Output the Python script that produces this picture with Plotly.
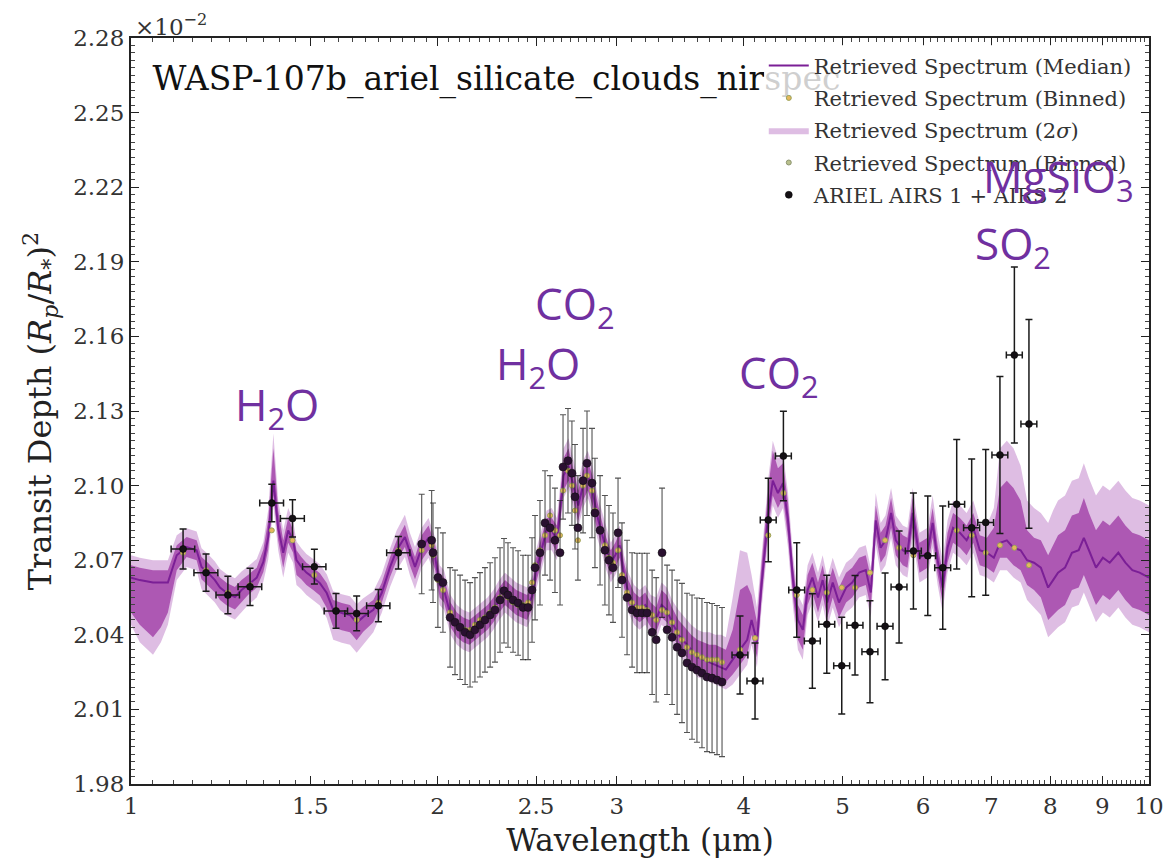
import numpy as np
import plotly.graph_objects as go

# ---------------- retrieved model spectrum: median ----------------
wl_model_a = [1.000, 1.020, 1.051, 1.070, 1.087, 1.109, 1.134, 1.160, 1.173, 1.190,
              1.209, 1.223, 1.242, 1.265, 1.284, 1.303, 1.329, 1.349, 1.364, 1.380,
              1.395, 1.411, 1.427, 1.443, 1.454, 1.470, 1.487, 1.510, 1.533, 1.557,
              1.580, 1.611, 1.641, 1.666, 1.691, 1.730, 1.763, 1.797, 1.824, 1.858,
              1.879, 1.901]
median_a = [2.063, 2.062, 2.061, 2.061, 2.061, 2.072, 2.0753, 2.074, 2.0673, 2.065,
            2.062, 2.059, 2.0568, 2.0552, 2.058, 2.060, 2.063, 2.0693, 2.0793, 2.102,
            2.083, 2.073, 2.082, 2.078, 2.070, 2.0673, 2.065, 2.063, 2.0608, 2.0568,
            2.050, 2.0488, 2.048, 2.0448, 2.0472, 2.050, 2.0568, 2.0673, 2.074, 2.0793,
            2.073, 2.0673]

wl_model_b = [1.93, 1.96, 1.99, 2.01, 2.03, 2.06, 2.09, 2.12, 2.15, 2.18,
              2.21, 2.24, 2.27, 2.30, 2.33, 2.36, 2.39, 2.42, 2.45, 2.48,
              2.50, 2.53, 2.56, 2.59, 2.62, 2.64, 2.66, 2.69, 2.72, 2.75,
              2.78, 2.81, 2.84, 2.87, 2.90, 2.93, 2.96, 2.99, 3.02, 3.05,
              3.08, 3.12, 3.16, 3.20, 3.24, 3.28, 3.32, 3.36, 3.40, 3.45,
              3.50, 3.55, 3.60, 3.65, 3.70, 3.75, 3.80, 3.84]
median_b = [2.075, 2.079, 2.071, 2.060, 2.058, 2.048, 2.044, 2.042, 2.041, 2.043,
            2.045, 2.047, 2.050, 2.054, 2.057, 2.055, 2.053, 2.052, 2.051, 2.056,
            2.066, 2.074, 2.082, 2.082, 2.078, 2.090, 2.104, 2.108, 2.100, 2.092,
            2.100, 2.104, 2.098, 2.088, 2.081, 2.074, 2.069, 2.072, 2.076, 2.064,
            2.057, 2.052, 2.050, 2.052, 2.048, 2.046, 2.052, 2.050, 2.045, 2.040,
            2.037, 2.034, 2.031, 2.030, 2.029, 2.028, 2.027, 2.026]

wl_model_c = [3.90, 3.965, 4.03, 4.07, 4.12, 4.16, 4.23, 4.27, 4.32, 4.37,
              4.42, 4.47, 4.52, 4.57, 4.62, 4.67, 4.73, 4.78, 4.83, 4.89,
              4.96, 5.04, 5.11, 5.19, 5.27, 5.33, 5.39, 5.45, 5.51, 5.58,
              5.64, 5.73, 5.79, 5.86, 5.95, 6.06, 6.13, 6.20, 6.27, 6.34,
              6.42, 6.52, 6.62, 6.72, 6.82, 6.93, 7.04, 7.14, 7.25, 7.36,
              7.48, 7.59, 7.71, 7.83, 7.96, 8.05, 8.14, 8.27, 8.40, 8.53,
              8.63, 8.73, 8.87, 9.01, 9.15, 9.33, 9.48, 9.63, 9.79, 10.0]
median_c = [2.030, 2.034, 2.038, 2.046, 2.037, 2.059, 2.090, 2.102, 2.097, 2.101,
            2.086, 2.062, 2.046, 2.042, 2.058, 2.063, 2.055, 2.062, 2.053, 2.061,
            2.053, 2.059, 2.061, 2.065, 2.066, 2.057, 2.086, 2.075, 2.078, 2.089,
            2.078, 2.074, 2.073, 2.089, 2.071, 2.073, 2.085, 2.070, 2.059, 2.075,
            2.083, 2.081, 2.078, 2.083, 2.074, 2.073, 2.071, 2.077, 2.078, 2.075,
            2.074, 2.070, 2.069, 2.067, 2.059, 2.062, 2.065, 2.067, 2.073, 2.074,
            2.079, 2.074, 2.067, 2.071, 2.069, 2.073, 2.069, 2.066, 2.065, 2.063]

# ---------------- spread of the posterior about the median ----------------
sig1_hi_a = [0.005, 0.005, 0.005, 0.005, 0.005, 0.004, 0.004, 0.004, 0.004, 0.004,
             0.004, 0.004, 0.004, 0.004, 0.004, 0.004, 0.004, 0.005, 0.007, 0.013,
             0.007, 0.005, 0.005, 0.004, 0.004, 0.004, 0.004, 0.004, 0.004, 0.004,
             0.004, 0.004, 0.004, 0.004, 0.004, 0.004, 0.004, 0.004, 0.004, 0.005,
             0.004, 0.004]
sig1_lo_a = [0.014, 0.018, 0.022, 0.018, 0.012, 0.006, 0.004, 0.004, 0.005, 0.005,
             0.005, 0.005, 0.005, 0.005, 0.005, 0.004, 0.004, 0.004, 0.005, 0.006,
             0.005, 0.006, 0.005, 0.005, 0.006, 0.005, 0.005, 0.005, 0.005, 0.006,
             0.007, 0.007, 0.007, 0.007, 0.006, 0.005, 0.004, 0.004, 0.004, 0.004,
             0.005, 0.005]
sig2_hi_a = [0.009, 0.009, 0.009, 0.009, 0.009, 0.008, 0.0075, 0.0075, 0.0075, 0.0075,
             0.0075, 0.0075, 0.0075, 0.0075, 0.0075, 0.0075, 0.0075, 0.008, 0.011, 0.019,
             0.011, 0.009, 0.009, 0.008, 0.0075, 0.0075, 0.0075, 0.0075, 0.0075, 0.0075,
             0.0075, 0.0075, 0.0075, 0.0075, 0.0075, 0.0075, 0.0075, 0.0075, 0.008, 0.009,
             0.008, 0.008]
sig2_lo_a = [0.019, 0.025, 0.029, 0.024, 0.017, 0.010, 0.008, 0.008, 0.009, 0.009,
             0.009, 0.009, 0.009, 0.009, 0.009, 0.008, 0.008, 0.008, 0.009, 0.010,
             0.009, 0.010, 0.009, 0.009, 0.010, 0.009, 0.009, 0.009, 0.009, 0.010,
             0.012, 0.012, 0.012, 0.012, 0.011, 0.009, 0.008, 0.008, 0.008, 0.008,
             0.009, 0.009]

sig1_hi_b = [0.005, 0.005, 0.005, 0.005, 0.005, 0.005, 0.005, 0.005, 0.005, 0.005,
             0.005, 0.005, 0.005, 0.005, 0.005, 0.005, 0.005, 0.005, 0.005, 0.005,
             0.005, 0.005, 0.005, 0.005, 0.006, 0.006, 0.007, 0.007, 0.006, 0.006,
             0.006, 0.006, 0.006, 0.006, 0.005, 0.005, 0.005, 0.005, 0.005, 0.005,
             0.005, 0.005, 0.005, 0.005, 0.005, 0.005, 0.006, 0.006, 0.006, 0.006,
             0.006, 0.006, 0.007, 0.007, 0.007, 0.008, 0.008, 0.008]
sig1_lo_b = [0.005, 0.005, 0.005, 0.005, 0.005, 0.005, 0.005, 0.005, 0.005, 0.005,
             0.005, 0.005, 0.005, 0.005, 0.005, 0.005, 0.005, 0.005, 0.005, 0.005,
             0.005, 0.005, 0.005, 0.005, 0.005, 0.005, 0.006, 0.006, 0.006, 0.006,
             0.006, 0.006, 0.006, 0.006, 0.005, 0.005, 0.005, 0.005, 0.005, 0.005,
             0.005, 0.005, 0.005, 0.005, 0.005, 0.005, 0.005, 0.005, 0.005, 0.005,
             0.005, 0.005, 0.005, 0.005, 0.005, 0.005, 0.005, 0.005]
sig2_hi_b = [0.008, 0.008, 0.008, 0.008, 0.008, 0.008, 0.008, 0.008, 0.008, 0.008,
             0.008, 0.008, 0.008, 0.008, 0.008, 0.008, 0.008, 0.008, 0.008, 0.008,
             0.008, 0.008, 0.008, 0.009, 0.009, 0.010, 0.011, 0.011, 0.010, 0.010,
             0.010, 0.010, 0.010, 0.009, 0.009, 0.009, 0.008, 0.008, 0.008, 0.008,
             0.008, 0.008, 0.008, 0.008, 0.008, 0.009, 0.009, 0.009, 0.009, 0.010,
             0.010, 0.010, 0.011, 0.011, 0.012, 0.012, 0.013, 0.013]
sig2_lo_b = [0.008, 0.008, 0.008, 0.008, 0.008, 0.008, 0.008, 0.008, 0.008, 0.008,
             0.008, 0.008, 0.008, 0.008, 0.008, 0.008, 0.008, 0.008, 0.008, 0.008,
             0.008, 0.008, 0.008, 0.008, 0.008, 0.008, 0.009, 0.009, 0.009, 0.009,
             0.009, 0.009, 0.009, 0.009, 0.008, 0.008, 0.008, 0.008, 0.008, 0.008,
             0.008, 0.008, 0.008, 0.008, 0.008, 0.008, 0.008, 0.008, 0.008, 0.008,
             0.008, 0.008, 0.008, 0.008, 0.008, 0.008, 0.008, 0.008]

sig1_hi_c = [0.012, 0.024, 0.022, 0.010, 0.008, 0.008, 0.010, 0.012, 0.010, 0.008,
             0.007, 0.006, 0.006, 0.006, 0.006, 0.006, 0.006, 0.006, 0.006, 0.006,
             0.006, 0.006, 0.006, 0.006, 0.006, 0.006, 0.006, 0.006, 0.006, 0.006,
             0.006, 0.006, 0.006, 0.006, 0.006, 0.006, 0.006, 0.006, 0.006, 0.006,
             0.006, 0.006, 0.006, 0.006, 0.006, 0.006, 0.012, 0.022, 0.024, 0.024,
             0.020, 0.012, 0.010, 0.011, 0.013, 0.014, 0.015, 0.015, 0.015, 0.015,
             0.016, 0.015, 0.015, 0.015, 0.015, 0.015, 0.015, 0.015, 0.015, 0.015]
sig1_lo_c = [0.006, 0.006, 0.006, 0.006, 0.006, 0.006, 0.006, 0.006, 0.006, 0.006,
             0.007, 0.007, 0.008, 0.008, 0.006, 0.006, 0.006, 0.006, 0.006, 0.006,
             0.006, 0.006, 0.006, 0.006, 0.006, 0.006, 0.006, 0.006, 0.006, 0.006,
             0.006, 0.006, 0.006, 0.006, 0.006, 0.006, 0.006, 0.006, 0.006, 0.006,
             0.006, 0.006, 0.006, 0.006, 0.006, 0.006, 0.006, 0.006, 0.007, 0.007,
             0.008, 0.010, 0.011, 0.012, 0.013, 0.014, 0.015, 0.015, 0.015, 0.015,
             0.015, 0.015, 0.015, 0.015, 0.015, 0.015, 0.015, 0.015, 0.015, 0.015]
sig2_hi_c = [0.025, 0.040, 0.035, 0.018, 0.014, 0.012, 0.014, 0.016, 0.014, 0.012,
             0.011, 0.010, 0.010, 0.010, 0.010, 0.010, 0.010, 0.010, 0.010, 0.010,
             0.010, 0.010, 0.010, 0.010, 0.010, 0.010, 0.011, 0.010, 0.010, 0.010,
             0.010, 0.010, 0.010, 0.010, 0.010, 0.010, 0.011, 0.011, 0.011, 0.011,
             0.011, 0.011, 0.011, 0.011, 0.011, 0.011, 0.020, 0.038, 0.040, 0.040,
             0.034, 0.024, 0.022, 0.022, 0.026, 0.028, 0.029, 0.029, 0.029, 0.029,
             0.030, 0.029, 0.029, 0.029, 0.029, 0.029, 0.029, 0.029, 0.029, 0.029]
sig2_lo_c = [0.010, 0.010, 0.010, 0.010, 0.010, 0.010, 0.010, 0.010, 0.010, 0.010,
             0.011, 0.011, 0.012, 0.012, 0.010, 0.010, 0.010, 0.010, 0.010, 0.010,
             0.010, 0.010, 0.010, 0.010, 0.010, 0.010, 0.010, 0.010, 0.010, 0.010,
             0.010, 0.010, 0.010, 0.010, 0.010, 0.010, 0.010, 0.010, 0.010, 0.010,
             0.010, 0.010, 0.010, 0.010, 0.010, 0.010, 0.010, 0.011, 0.012, 0.012,
             0.013, 0.016, 0.018, 0.019, 0.020, 0.021, 0.022, 0.022, 0.022, 0.022,
             0.022, 0.022, 0.022, 0.022, 0.022, 0.022, 0.022, 0.022, 0.022, 0.022]

# ---------------- observed spectrum ----------------
# low-resolution bins (1.1-1.9 um)
wl_obs_a = [1.125, 1.185, 1.245, 1.309, 1.375, 1.441, 1.514, 1.590, 1.666, 1.750, 1.831]
depth_obs_a = [2.0745, 2.065, 2.056, 2.0593, 2.093, 2.0868, 2.0674, 2.0496, 2.0486, 2.0517, 2.073]
err_obs_a = [0.008, 0.0075, 0.0075, 0.0075, 0.0075, 0.0075, 0.007, 0.007, 0.007, 0.0065, 0.0065]
halfbin_obs_a = [0.030, 0.032, 0.033, 0.035, 0.037, 0.039, 0.040, 0.042, 0.044, 0.046, 0.048]
binned_a = [2.073, 2.066, 2.057, 2.060, 2.082, 2.078, 2.064, 2.050, 2.046, 2.053, 2.074]

# high-resolution bins (1.9-3.8 um)
wl_obs_b = [1.930, 1.974, 1.980, 2.002, 2.025, 2.058, 2.081, 2.105, 2.129, 2.153,
            2.177, 2.202, 2.227, 2.253, 2.278, 2.304, 2.325, 2.346, 2.373, 2.400,
            2.427, 2.455, 2.477, 2.494, 2.522, 2.551, 2.580, 2.609, 2.639, 2.657,
            2.687, 2.711, 2.730, 2.748, 2.780, 2.805, 2.837, 2.856, 2.889, 2.921,
            2.948, 2.975, 3.009, 3.036, 3.071, 3.106, 3.141, 3.177, 3.213, 3.250,
            3.280, 3.324, 3.362, 3.400, 3.439, 3.477, 3.517, 3.557, 3.597, 3.638,
            3.680, 3.722, 3.764, 3.807]
depth_obs_b = [2.0765, 2.078, 2.073, 2.063, 2.061, 2.047, 2.045, 2.043, 2.041, 2.040,
               2.042, 2.044, 2.046, 2.048, 2.050, 2.054, 2.0577, 2.056, 2.054, 2.0528,
               2.051, 2.051, 2.058, 2.067, 2.073, 2.085, 2.083, 2.078, 2.073, 2.1075,
               2.110, 2.105, 2.0955, 2.083, 2.102, 2.109, 2.101, 2.089, 2.082, 2.074,
               2.070, 2.067, 2.081, 2.062, 2.055, 2.050, 2.0488, 2.0488, 2.0488, 2.041,
               2.038, 2.073, 2.042, 2.039, 2.035, 2.0327, 2.0287, 2.027, 2.0258, 2.0246,
               2.023, 2.0226, 2.0218, 2.021]
err_obs_b = [0.020, 0.020, 0.020, 0.020, 0.020, 0.020, 0.021, 0.021, 0.021, 0.021,
             0.021, 0.021, 0.021, 0.021, 0.021, 0.021, 0.021, 0.021, 0.021, 0.021,
             0.021, 0.021, 0.021, 0.021, 0.021, 0.021, 0.021, 0.021, 0.021, 0.021,
             0.021, 0.021, 0.021, 0.021, 0.021, 0.021, 0.022, 0.022, 0.022, 0.022,
             0.022, 0.022, 0.022, 0.023, 0.023, 0.023, 0.024, 0.024, 0.024, 0.025,
             0.025, 0.026, 0.026, 0.027, 0.027, 0.028, 0.028, 0.029, 0.029, 0.030,
             0.030, 0.030, 0.030, 0.030]
binned_b = [2.074, 2.076, 2.072, 2.062, 2.058, 2.049, 2.045, 2.043, 2.042, 2.042,
            2.044, 2.046, 2.047, 2.049, 2.051, 2.055, 2.057, 2.055, 2.053, 2.052,
            2.052, 2.053, 2.061, 2.068, 2.074, 2.080, 2.088, 2.082, 2.080, 2.098,
            2.106, 2.100, 2.090, 2.078, 2.100, 2.104, 2.098, 2.090, 2.082, 2.076,
            2.071, 2.069, 2.074, 2.064, 2.057, 2.053, 2.051, 2.051, 2.050, 2.048,
            2.046, 2.050, 2.049, 2.045, 2.041, 2.038, 2.035, 2.033, 2.032, 2.031,
            2.030, 2.030, 2.030, 2.029]

# mid-infrared bins (3.9-7.7 um)
wl_obs_c = [3.965, 4.102, 4.227, 4.374, 4.508, 4.670, 4.825, 4.991, 5.143, 5.320,
            5.505, 5.682, 5.869, 6.063, 6.272, 6.473, 6.696, 6.912, 7.138, 7.375, 7.622]
depth_obs_c = [2.0319, 2.0214, 2.0862, 2.1119, 2.058, 2.0375, 2.0442, 2.0276, 2.0438, 2.0332,
               2.0434, 2.0592, 2.0737, 2.0718, 2.067, 2.0925, 2.083, 2.0852, 2.1123, 2.1525, 2.1248]
err_obs_c = [0.0157, 0.0153, 0.0168, 0.018, 0.019, 0.019, 0.0197, 0.0195, 0.020, 0.0205,
             0.0215, 0.0225, 0.0233, 0.024, 0.0248, 0.026, 0.0277, 0.0293, 0.0316, 0.0354, 0.042]
halfbin_obs_c = [0.071, 0.074, 0.076, 0.079, 0.081, 0.084, 0.087, 0.090, 0.093, 0.096,
                 0.099, 0.102, 0.106, 0.109, 0.113, 0.117, 0.121, 0.124, 0.128, 0.133, 0.137]
binned_c = [2.034, 2.0387, 2.080, 2.097, 2.056, 2.058, 2.057, 2.059, 2.059, 2.065,
            2.078, 2.075, 2.072, 2.072, 2.067, 2.082, 2.080, 2.073, 2.076, 2.075, 2.068]

# ---------------- labels ----------------
molecule_labels = ["H<sub>2</sub>O", "H<sub>2</sub>O", "CO<sub>2</sub>", "CO<sub>2</sub>",
                   "SO<sub>2</sub>", "MgSiO<sub>3</sub>"]
molecule_wl = [1.39, 2.51, 2.73, 4.33, 7.36, 8.15]
molecule_depth = [2.132, 2.1485, 2.1726, 2.1445, 2.1967, 2.2235]
x_tick_vals = [1, 1.5, 2, 2.5, 3, 4, 5, 6, 7, 8, 9, 10]
y_tick_vals = [1.98, 2.01, 2.04, 2.07, 2.10, 2.13, 2.16, 2.19, 2.22, 2.25, 2.28]
title_text = "WASP-107b_ariel_silicate_clouds_nirspec"

# ---------------- assemble ----------------
wl_model = np.array(wl_model_a + wl_model_b + wl_model_c)
median = np.array(median_a + median_b + median_c)
s1h = np.array(sig1_hi_a + sig1_hi_b + sig1_hi_c)
s1l = np.array(sig1_lo_a + sig1_lo_b + sig1_lo_c)
s2h = np.array(sig2_hi_a + sig2_hi_b + sig2_hi_c)
s2l = np.array(sig2_lo_a + sig2_lo_b + sig2_lo_c)

SERIF = "DejaVu Serif"
C_LINE = "#7b1f96"
C_1SIG = "rgba(165, 70, 170, 0.85)"
C_2SIG = "rgba(218, 182, 224, 0.9)"

fig = go.Figure()


def band(lo, hi, color, name, group, show, rank):
    return go.Scatter(
        x=np.concatenate([wl_model, wl_model[::-1]]),
        y=np.concatenate([hi, lo[::-1]]),
        fill="toself", fillcolor=color, mode="lines", line=dict(width=0),
        hoverinfo="skip", name=name, showlegend=show, legendgroup=group,
        legendrank=rank,
    )


fig.add_trace(band(median - s2l, median + s2h, C_2SIG,
                   "Retrieved Spectrum (2<i>σ</i>)", "g3", True, 3))
fig.add_trace(band(median - s1l, median + s1h, C_1SIG,
                   "Retrieved Spectrum (1<i>σ</i>)", "g6", False, 6))
fig.add_trace(go.Scatter(x=wl_model, y=median, mode="lines",
                         line=dict(color=C_LINE, width=2),
                         name="Retrieved Spectrum (Median)", legendgroup="g1",
                         legendrank=1))

# model binned to the observation bins
wl_obs_all = wl_obs_a + wl_obs_b + wl_obs_c
binned_all = binned_a + binned_b + binned_c
fig.add_trace(go.Scatter(x=wl_obs_all, y=binned_all, mode="markers",
                         marker=dict(size=5, color="#e6b85c",
                                     line=dict(color="#9aa35a", width=1)),
                         name="Retrieved Spectrum (Binned)", legendgroup="g2",
                         legendrank=2))
fig.add_trace(go.Scatter(x=[None], y=[None], mode="markers",
                         marker=dict(size=5, color="#b9c08c",
                                     line=dict(color="#8c9470", width=1)),
                         name="Retrieved Spectrum (Binned)", legendgroup="g4",
                         legendrank=4))

# observations: dense high-resolution bins
fig.add_trace(go.Scatter(
    x=wl_obs_b, y=depth_obs_b, mode="markers",
    marker=dict(size=8, color="#2a1030", line=dict(color="#111", width=0.6)),
    error_y=dict(type="data", array=err_obs_b, color="rgba(25,25,25,0.75)",
                 thickness=1.1, width=3),
    name="ARIEL AIRS 1 + AIRS 2", legendgroup="g5", showlegend=False,
    legendrank=5))

# observations: coarse bins with spectral half-widths
fig.add_trace(go.Scatter(
    x=wl_obs_a + wl_obs_c, y=depth_obs_a + depth_obs_c, mode="markers",
    marker=dict(size=7, color="#141014", line=dict(color="#000", width=0.5)),
    error_y=dict(type="data", array=err_obs_a + err_obs_c, color="#1a1a1a",
                 thickness=1.5, width=3.5),
    error_x=dict(type="data", array=halfbin_obs_a + halfbin_obs_c, color="#1a1a1a",
                 thickness=1.5, width=3.5),
    name="ARIEL AIRS 1 + AIRS 2", legendgroup="g5", legendrank=5))

# run name written inside the axes
fig.add_trace(go.Scatter(x=[1.05], y=[2.2625], mode="text", text=[title_text],
                         textposition="middle right",
                         textfont=dict(family=SERIF, size=33, color="#111"),
                         showlegend=False, hoverinfo="skip", cliponaxis=False))

# molecule annotations
for lab, w, d in zip(molecule_labels, molecule_wl, molecule_depth):
    fig.add_annotation(x=np.log10(w), y=d, xref="x", yref="y", text=lab,
                       showarrow=False,
                       font=dict(family="Open Sans", size=44, color="#7030a0"))

fig.add_annotation(x=0, y=1, xref="paper", yref="paper", xanchor="left",
                   yanchor="bottom", text="×10<sup>−2</sup>", showarrow=False,
                   xshift=2, yshift=-4,
                   font=dict(family=SERIF, size=23, color="#333"))

minor_x = [v for v in np.round(np.arange(1.0, 10.0001, 0.05), 3) if v <= 3] + \
          [v for v in np.round(np.arange(3.1, 10.0001, 0.1), 3)]

fig.update_xaxes(
    type="log", range=[0, 1], tickvals=x_tick_vals,
    ticktext=[str(v) for v in x_tick_vals], automargin=False,
    ticks="inside", ticklen=8, tickwidth=1.2, tickcolor="#222",
    showline=True, linecolor="#222", linewidth=2, mirror="allticks",
    showgrid=False, zeroline=False,
    minor=dict(tickvals=minor_x, ticks="inside", ticklen=4, tickcolor="#444",
               showgrid=False),
    tickfont=dict(family=SERIF, size=23, color="#333"),
    title=dict(text="Wavelength (μm)", font=dict(family=SERIF, size=31, color="#222"),
               standoff=12),
)
fig.update_yaxes(
    range=[1.98, 2.28], tickvals=y_tick_vals, automargin=False,
    ticktext=[f"{v:.2f}" for v in y_tick_vals],
    ticks="inside", ticklen=8, tickwidth=1.2, tickcolor="#222",
    showline=True, linecolor="#222", linewidth=2, mirror="allticks",
    showgrid=False, zeroline=False,
    minor=dict(dtick=0.003, ticks="inside", ticklen=4, tickcolor="#444",
               showgrid=False),
    tickfont=dict(family=SERIF, size=23, color="#333"),
    title=dict(text="Transit Depth (<i>R<sub>p</sub></i>/<i>R<sub>*</sub></i>)<sup>2</sup>",
               font=dict(family=SERIF, size=32, color="#222"), standoff=12),
)

fig.update_layout(
    width=1164, height=867,
    margin=dict(l=131, r=15, t=38, b=83),
    paper_bgcolor="white", plot_bgcolor="white",
    showlegend=True,
    legend=dict(x=0.988, y=0.99, xanchor="right", yanchor="top",
                bgcolor="rgba(255,255,255,0.8)", borderwidth=0,
                font=dict(family=SERIF, size=21, color="#333"),
                traceorder="grouped", tracegroupgap=2, itemwidth=40),
)

fig.write_html("out.html")
